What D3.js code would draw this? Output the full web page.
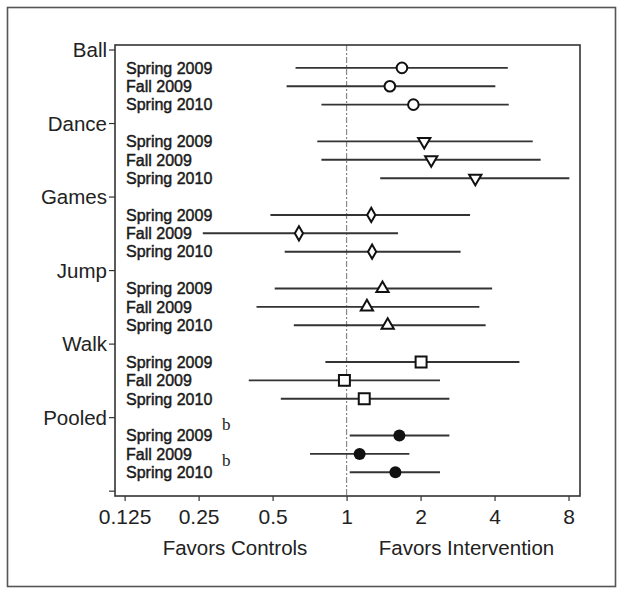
<!DOCTYPE html>
<html><head><meta charset="utf-8">
<script src="https://cdn.jsdelivr.net/npm/d3@7"></script>
<style>body{margin:0;background:#fff;} svg{display:block;}</style>
</head><body>
<svg id="chart" width="624" height="595"></svg>
<script>
const categories = ["Ball","Dance","Games","Jump","Walk","Pooled"];
const seasons = ["Spring 2009","Fall 2009","Spring 2010"];
const markerTypes = ["circle","triDown","diamond","triUp","square","filled"];
// odds-ratio estimates, lower and upper 95% CI per category (Spring 2009, Fall 2009, Spring 2010)
const est   = [[1.68,1.50,1.87],[2.07,2.21,3.34],[1.26,0.64,1.27],[1.40,1.21,1.47],[2.01,0.98,1.18],[1.64,1.13,1.58]];
const lower = [[0.62,0.57,0.79],[0.76,0.79,1.37],[0.49,0.26,0.56],[0.51,0.43,0.61],[0.82,0.40,0.54],[1.03,0.71,1.03]];
const upper = [[4.53,4.03,4.57],[5.72,6.16,8.06],[3.18,1.62,2.91],[3.91,3.47,3.68],[5.05,2.40,2.62],[2.62,1.80,2.40]];
const pooledNotes = ["b","","b"];
const xTicks = [0.125,0.25,0.5,1,2,4,8];
const xTickLabels = ["0.125","0.25","0.5","1","2","4","8"];
const xTitles = ["Favors Controls","Favors Intervention"];

const svg = d3.select("#chart");
const L=115, R=580, T=45, B=496;
const x = d3.scaleLog().base(2).domain([Math.pow(2,-3.13), Math.pow(2,3.155)]).range([L,R]);
const y = d3.scaleLinear().domain([-0.245, 24.29]).range([T,B]);
const font = "'Liberation Sans', Arial, Helvetica, sans-serif";

// outer frame
svg.append("rect").attr("x",7.5).attr("y",7.5).attr("width",608).attr("height",579)
  .attr("fill","none").attr("stroke","#555").attr("stroke-width",1.6);

// reference line at 1
svg.append("line").attr("x1",x(1)).attr("x2",x(1)).attr("y1",T).attr("y2",B)
  .attr("stroke","#888").attr("stroke-width",1.2).attr("stroke-dasharray","6,2,2,2");

// plot box
svg.append("rect").attr("x",L).attr("y",T).attr("width",R-L).attr("height",B-T)
  .attr("fill","none").attr("stroke","#333").attr("stroke-width",1.6);

// x axis
const xAxis = d3.axisBottom(x).tickValues(xTicks).tickFormat((d,i)=>xTickLabels[i]).tickSize(5).tickPadding(8);
const gx = svg.append("g").attr("transform",`translate(0,${B})`).call(xAxis);
gx.select(".domain").remove();
gx.selectAll("line").attr("stroke","#333").attr("stroke-width",1.2);
gx.selectAll("text").attr("font-family",font).attr("font-size",21).attr("fill","#222");

// x titles
svg.append("text").attr("x",235).attr("y",555).attr("text-anchor","middle")
  .attr("font-family",font).attr("font-size",20.5).attr("fill","#222").text(xTitles[0]);
svg.append("text").attr("x",466.5).attr("y",555).attr("text-anchor","middle")
  .attr("font-family",font).attr("font-size",20.5).attr("fill","#222").text(xTitles[1]);

// y axis (category ticks)
const yTickVals = categories.map((c,i)=>i*4).concat([24]);
const yAxis = d3.axisLeft(y).tickValues(yTickVals).tickFormat(d=>categories[d/4]||"").tickSize(6).tickPadding(2);
const gy = svg.append("g").attr("transform",`translate(${L},0)`).call(yAxis);
gy.select(".domain").remove();
gy.selectAll("line").attr("stroke","#333").attr("stroke-width",1.2);
gy.selectAll("text").attr("font-family",font).attr("font-size",20.5).attr("fill","#222").attr("dy","0.35em");

// rows
const sym = {
  triDown: d3.symbol().type(d3.symbolTriangle).size(65),
  diamond: d3.symbol().type(d3.symbolDiamond).size(58),
  triUp: d3.symbol().type(d3.symbolTriangle).size(65),
  square: d3.symbol().type(d3.symbolSquare).size(120)
};
categories.forEach((cat,ci)=>{
  seasons.forEach((s,si)=>{
    const yy = y(ci*4+si+1);
    svg.append("text").attr("x",126).attr("y",yy).attr("dy","0.36em")
      .attr("font-family",font).attr("font-size",16).attr("fill","#1a1a1a")
      .attr("stroke","#1a1a1a").attr("stroke-width",0.45).text(s);
    svg.append("line").attr("x1",x(lower[ci][si])).attr("x2",x(upper[ci][si])).attr("y1",yy).attr("y2",yy)
      .attr("stroke","#333").attr("stroke-width",1.9);
    const cx = x(est[ci][si]);
    const t = markerTypes[ci];
    if (t==="circle") {
      svg.append("circle").attr("cx",cx).attr("cy",yy).attr("r",5.3).attr("fill","#fff").attr("stroke","#111").attr("stroke-width",2);
    } else if (t==="filled") {
      svg.append("circle").attr("cx",cx).attr("cy",yy).attr("r",6).attr("fill","#111");
    } else {
      let tr = `translate(${cx},${yy})`;
      if (t==="triDown") tr += " rotate(180)";
      svg.append("path").attr("d",sym[t]()).attr("transform",tr)
        .attr("fill","#fff").attr("stroke","#111").attr("stroke-width",2);
    }
    if (cat==="Pooled" && pooledNotes[si]) {
      svg.append("text").attr("x",222).attr("y",yy-6).attr("font-family","'Liberation Serif','Times New Roman',serif")
        .attr("font-size",17).attr("fill","#222").text(pooledNotes[si]);
    }
  });
});
</script>
</body></html>
